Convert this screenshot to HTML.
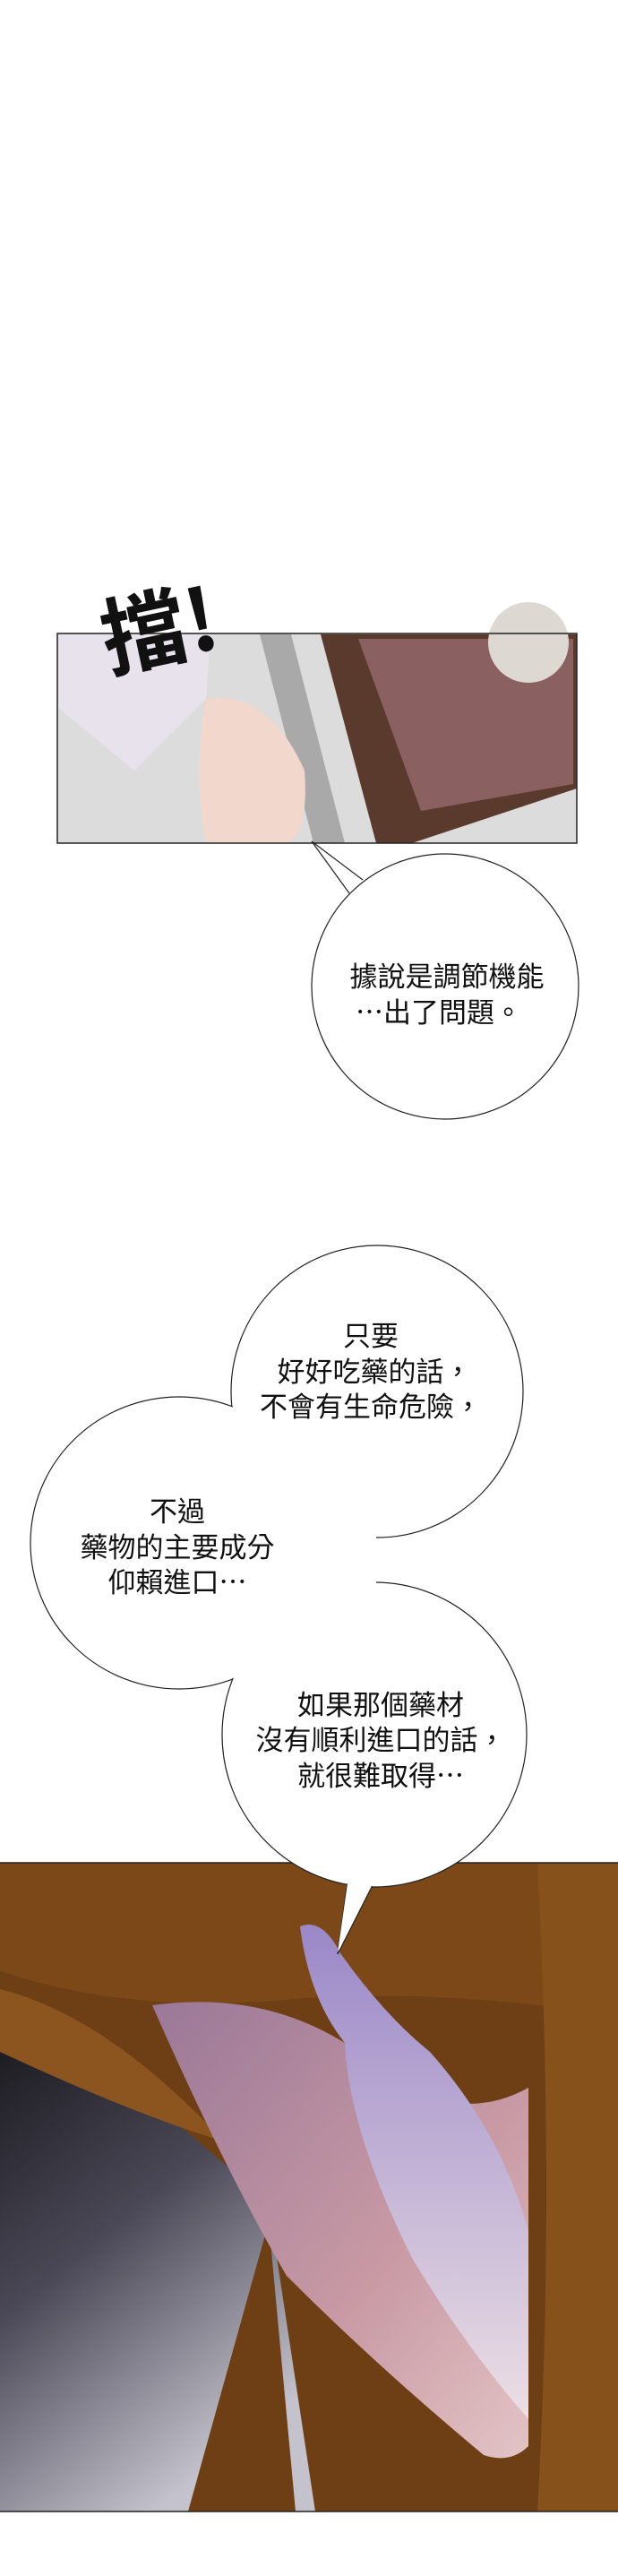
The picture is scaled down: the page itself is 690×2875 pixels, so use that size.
<!DOCTYPE html>
<html><head><meta charset="utf-8"><style>
html,body{margin:0;padding:0;background:#fff;width:690px;height:2875px;overflow:hidden}
svg{display:block}
text{font-family:"Liberation Sans","Noto Sans CJK TC",sans-serif;fill:#111}
.cj{font-family:"Noto Sans CJK TC",sans-serif}
</style></head><body>
<svg width="690" height="2875" viewBox="0 0 690 2875" xmlns="http://www.w3.org/2000/svg">
<defs>
<linearGradient id="face" x1="0" y1="0" x2="1" y2="1">
<stop offset="0" stop-color="#9a7898"/><stop offset="0.6" stop-color="#c99aa4"/><stop offset="1" stop-color="#e2c4c6"/></linearGradient>
<linearGradient id="cheek" x1="0" y1="0" x2="0" y2="1">
<stop offset="0" stop-color="#9a88c8"/><stop offset="1" stop-color="#ecdfe4"/></linearGradient>
<linearGradient id="bg2" x1="0" y1="0" x2="0.5" y2="1">
<stop offset="0" stop-color="#141418"/><stop offset="0.5" stop-color="#4a4856"/><stop offset="1" stop-color="#c4c2cc"/></linearGradient>
</defs>

<!-- Panel 1 -->
<rect x="64" y="707" width="580" height="234" fill="#dcdcdc"/>
<polygon points="65,708 235,708 230,780 150,860 65,790" fill="#e8e2ec"/>
<polygon points="290,708 325,708 385,941 350,941" fill="#a9a9a9"/>
<path d="M230,780 Q300,770 340,860 Q345,930 320,941 L230,941 Q215,860 230,780Z" fill="#f2d7cc"/>
<polygon points="358,708 644,708 644,880 460,941 420,941" fill="#5a3a2c"/>
<polygon points="400,713 640,713 640,875 470,905" fill="#8a6060"/>
<circle cx="590" cy="717" r="45" fill="#ddd8d2"/>
<rect x="64" y="707" width="580" height="234" fill="none" stroke="#222" stroke-width="1.5"/>
<text x="110" y="740" font-size="95" font-weight="bold" transform="rotate(-12 160 690)" class="cj">擋!</text>

<!-- Bubble 1 -->
<ellipse cx="497" cy="1101" rx="149" ry="148" fill="#fff" stroke="#222" stroke-width="1.2"/>
<polygon points="348,939 405,982 390,997" fill="#fff"/>
<polyline points="390,997 348,939 405,982" fill="none" stroke="#222" stroke-width="1.2"/>
<text x="499" y="1101" font-size="31" text-anchor="middle">據說是調節機能</text>
<text x="490" y="1141" font-size="31" text-anchor="middle" class="cj">…出了問題。</text>

<!-- Panel 2 -->
<rect x="0" y="2079" width="690" height="724" fill="#6e3f14"/>
<path d="M0,2230 Q150,2320 300,2460 L352,2803 L0,2803Z" fill="url(#bg2)"/>
<path d="M0,2079 L690,2079 L690,2250 Q500,2220 340,2230 Q150,2250 0,2200Z" fill="#7c4818"/>
<path d="M0,2220 Q120,2250 250,2390 Q150,2360 0,2290Z" fill="#8c5520"/>
<path d="M300,2480 L330,2803 L210,2803 Z" fill="#6e3f14"/>
<path d="M170,2238 Q300,2220 400,2290 Q500,2380 590,2330 L590,2730 Q570,2750 540,2740 Q420,2640 320,2540 Q250,2420 170,2238Z" fill="url(#face)"/>
<path d="M335,2150 Q360,2140 380,2180 Q430,2250 480,2290 Q560,2380 590,2490 L590,2700 Q520,2620 460,2520 Q390,2380 385,2280 Q345,2230 335,2150Z" fill="url(#cheek)"/>
<path d="M600,2079 L690,2079 L690,2803 L600,2803 Q620,2450 600,2079Z" fill="#86511a"/>
<line x1="0" y1="2079" x2="690" y2="2079" stroke="#222" stroke-width="1.5"/>
<line x1="0" y1="2803" x2="690" y2="2803" stroke="#222" stroke-width="1.5"/>

<!-- Bubble cluster -->
<g fill="#fff" stroke="#222" stroke-width="1.2">
<ellipse cx="421" cy="1553" rx="163" ry="163"/>
<ellipse cx="200" cy="1722" rx="166" ry="163"/>
<ellipse cx="418" cy="1936" rx="170" ry="170"/>
<polygon points="418,2100 377,2181 388,2100"/>
</g>
<g fill="#fff">
<ellipse cx="421" cy="1553" rx="162" ry="162"/>
<ellipse cx="200" cy="1722" rx="165" ry="162"/>
<ellipse cx="418" cy="1936" rx="169" ry="169"/>
<rect x="300" y="1640" width="120" height="200"/>
<polygon points="417,2095 377,2179 389,2095"/>
</g>
<text x="414" y="1502" font-size="31" text-anchor="middle">只要</text>
<text x="418" y="1542" font-size="31" text-anchor="middle">好好吃藥的話，</text>
<text x="414" y="1581" font-size="31" text-anchor="middle">不會有生命危險，</text>
<text x="198" y="1698" font-size="31" text-anchor="middle">不過</text>
<text x="198" y="1738" font-size="31" text-anchor="middle">藥物的主要成分</text>
<text x="198" y="1777" font-size="31" text-anchor="middle" class="cj">仰賴進口…</text>
<text x="425" y="1914" font-size="31" text-anchor="middle">如果那個藥材</text>
<text x="425" y="1953" font-size="31" text-anchor="middle">沒有順利進口的話，</text>
<text x="425" y="1993" font-size="31" text-anchor="middle" class="cj">就很難取得…</text>
</svg>
</body></html>
